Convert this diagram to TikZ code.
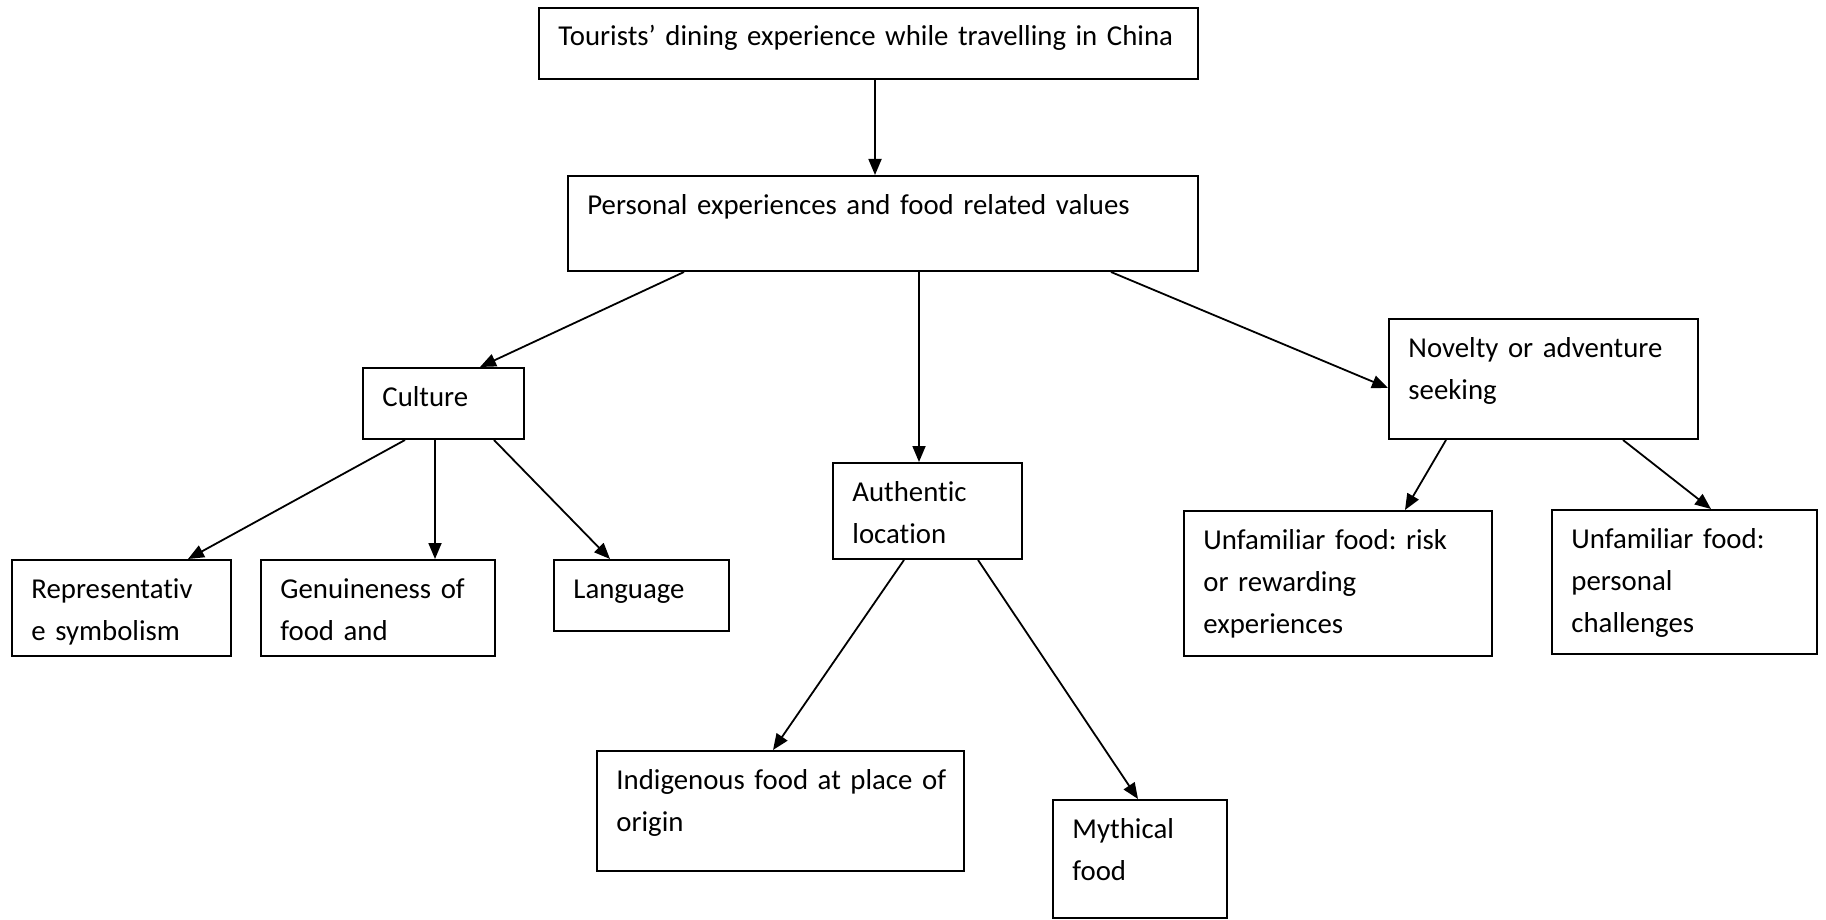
\documentclass[tikz,border=0pt]{standalone}
\usepackage{fontspec}
\setmainfont{Carlito}[RawFeature=-liga]
\usetikzlibrary{arrows.meta,calc,fit}
% framed box from (x1,y1) to (x2,y2) with its text set at the top left
\newcommand\tbox[6]{%
  \node[box={(#2,#3)(#4,#5)}] (#1) {};
  \node[lbl] (#1-t) at ($(#1.north west)+(20,39)$) {#6};}
\begin{document}
\begin{tikzpicture}[x=0.5pt,y=-0.5pt,
  box/.style={draw, line width=1pt, inner sep=0pt, fit={#1}},
  lbl/.style={anchor=base west, inner sep=0pt, text width=500pt, align=left,
    font=\fontsize{14.4}{21}\selectfont\frenchspacing},
  conn/.style={line width=0.9pt, -{Triangle[length=8pt,width=6.5pt]}}]
\useasboundingbox (0,0) rectangle (1826,920);

\tbox{b1}{539}{8}{1198}{79}{Tourists’ dining experience while travelling in China}
\tbox{b2}{568}{176}{1198}{271}{Personal experiences and food related values}
\tbox{cu}{363}{368}{524}{439}{Culture}
\tbox{nv}{1389}{319}{1698}{439}{Novelty or adventure\\seeking}
\tbox{au}{833}{463}{1022}{559}{Authentic\\location}
\tbox{re}{12}{560}{231}{656}{Representativ\\e symbolism}
\tbox{ge}{261}{560}{495}{656}{Genuineness of\\food and}
\tbox{la}{554}{560}{729}{631}{Language}
\tbox{in}{597}{751}{964}{871}{Indigenous food at place of\\origin}
\tbox{my}{1053}{800}{1227}{918}{Mythical\\food}
\tbox{ri}{1184}{511}{1492}{656}{Unfamiliar food: risk\\or rewarding\\experiences}
\tbox{pe}{1552}{510}{1817}{654}{Unfamiliar food:\\personal\\challenges}

\draw[conn] ($(b1.south west)+(337,0)$) -- ($(b2.north west)+(308,0)$);
\draw[conn] ($(b2.south west)+(117,0)$) -- ($(cu.north west)+(118,0)$);
\draw[conn] ($(b2.south west)+(352,0)$) -- ($(au.north west)+(87,0)$);
\draw[conn] ($(b2.south west)+(544,0)$) -- ($(nv.north west)+(0,70)$);
\draw[conn] ($(cu.south west)+(43,0)$) -- ($(re.north west)+(177,0)$);
\draw[conn] ($(cu.south west)+(73,0)$) -- ($(ge.north west)+(175,0)$);
\draw[conn] ($(cu.south west)+(132,0)$) -- ($(la.north west)+(57,0)$);
\draw[conn] ($(au.south west)+(72,0)$) -- ($(in.north west)+(177,0)$);
\draw[conn] ($(au.south west)+(146,0)$) -- ($(my.north west)+(86,0)$);
\draw[conn] ($(nv.south west)+(58,0)$) -- ($(ri.north west)+(222,0)$);
\draw[conn] ($(nv.south west)+(235,0)$) -- ($(pe.north west)+(160,0)$);
\end{tikzpicture}
\end{document}
